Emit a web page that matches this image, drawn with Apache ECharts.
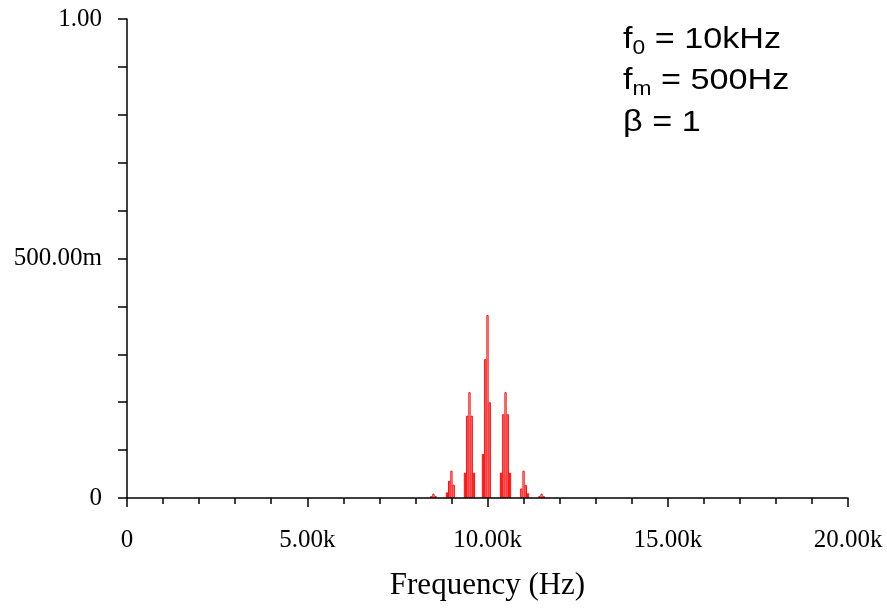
<!DOCTYPE html>
<html lang="en">
  <head>
    <meta charset="UTF-8" />
    <title>FM spectrum</title>
    <style>
      * {
        margin: 0;
        padding: 0;
      }
      body {
        background: #fff;
      }
    </style>
  </head>
  <body>
    <div id="main" style="width: 887px; height: 609px"></div>

    <script src="https://cdn.jsdelivr.net/npm/echarts@6/dist/echarts.min.js"></script>
    <script>
      // FFT bins (Hz) that are above zero, and their amplitudes
      const binFreq = [
        8437.5, 8500, 8562.5,
        8875, 8937.5, 9000, 9062.5,
        9375, 9437.5, 9500, 9562.5, 9625,
        9875, 9937.5, 10000, 10062.5,
        10375, 10437.5, 10500, 10562.5, 10625,
        10937.5, 11000, 11062.5, 11125,
        11437.5, 11500, 11562.5,
      ];
      const binAmp = [
        0.004, 0.009, 0.004,
        0.012, 0.036, 0.057, 0.028,
        0.053, 0.172, 0.221, 0.172, 0.053,
        0.092, 0.29, 0.382, 0.2,
        0.053, 0.175, 0.221, 0.175, 0.053,
        0.02, 0.057, 0.027, 0.01,
        0.004, 0.009, 0.004,
      ];

      // tick labels
      const xLabels = { 0: "0", 5000: "5.00k", 10000: "10.00k", 15000: "15.00k", 20000: "20.00k" };
      const yLabels = ["0", "500.00m", "1.00"];

      const serif = "'Liberation Serif', 'Times New Roman', serif";
      const sans = "'Liberation Sans', Arial, sans-serif";

      var myChart = echarts.init(document.getElementById("main"));

      const data = binFreq.map((f, i) => [f, binAmp[i]]);

      // 注释文字的样式
      const rich = {
        m: { fontSize: 30, fontFamily: sans, color: "#000", lineHeight: 36 },
        s: { fontSize: 20, fontFamily: sans, color: "#000", lineHeight: 17, verticalAlign: "bottom" },
      };

      // 一行注释
      function note(text, y) {
        return {
          type: "text",
          x: 623,
          y: y,
          scaleX: 1.14,
          style: { text: text, rich: rich, align: "left", verticalAlign: "top" },
        };
      }

      const option = {
        backgroundColor: "#fff",
        animation: false,
        grid: { left: 127, right: 39, top: 19, bottom: 111 },
        xAxis: {
          type: "value",
          min: 0,
          max: 20000,
          interval: 5000,
          z: 5,
          name: "Frequency (Hz)",
          nameLocation: "middle",
          nameGap: 72,
          nameTextStyle: { fontFamily: serif, fontSize: 31, color: "#000" },
          axisLine: { lineStyle: { color: "#000", width: 1.5 } },
          axisTick: { show: true, length: 9, lineStyle: { color: "#000", width: 1.5 } },
          minorTick: { show: true, splitNumber: 5, length: 6, lineStyle: { color: "#000", width: 1.5 } },
          axisLabel: {
            margin: 30,
            fontFamily: serif,
            fontSize: 25,
            color: "#000",
            formatter: (v) => xLabels[v] || "",
          },
          splitLine: { show: false },
        },
        yAxis: {
          type: "value",
          min: 0,
          max: 1,
          interval: 0.5,
          axisLine: { show: true, lineStyle: { color: "#000", width: 1.5 } },
          axisTick: { show: true, length: 9, lineStyle: { color: "#000", width: 1.5 } },
          minorTick: { show: true, splitNumber: 5, length: 9, lineStyle: { color: "#000", width: 1.5 } },
          axisLabel: {
            margin: 25,
            fontFamily: serif,
            fontSize: 25,
            color: "#000",
            formatter: (v) => yLabels[Math.round(v * 2)],
          },
          splitLine: { show: false },
        },
        series: [
          {
            type: "bar",
            data: data,
            barWidth: 2.25,
            itemStyle: {
              color: "rgba(255,255,255,0)",
              borderColor: "#ff0000",
              borderWidth: 1,
            },
          },
        ],
        graphic: [
          note("{m|f}{s|0}{m| = 10kHz}", 22),
          note("{m|f}{s|m}{m| = 500Hz}", 63),
          note("{m|β = 1}", 105),
        ],
      };

      myChart.setOption(option);
    </script>
  </body>
</html>
